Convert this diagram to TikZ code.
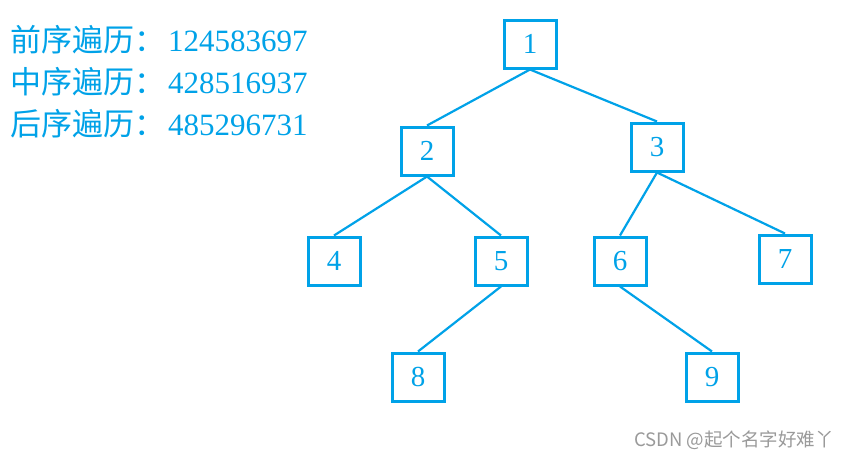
\documentclass[tikz,border=0pt]{standalone}
\usepackage{fontspec}
\setmainfont{Liberation Serif}
\newfontfamily\cjk{Noto Sans CJK SC}
\definecolor{treeblue}{HTML}{00A2E8}
\definecolor{wmgray}{HTML}{9A9A9A}
\begin{document}
\begin{tikzpicture}[x=1pt,y=-1pt,
  tnode/.style={draw=treeblue, line width=3pt, minimum width=52pt, minimum height=48pt, inner sep=0pt, text=treeblue, font=\fontsize{29}{31}\selectfont},
  edge/.style={draw=treeblue, line width=2.2pt},
  trav/.style={anchor=west, text=treeblue, inner sep=0pt, font=\fontsize{31}{33}\selectfont}]
\useasboundingbox (0,0) rectangle (854,459);
\fill[white] (0,0) rectangle (854,459);
\node[tnode] (n1) at (530,44) {1};
\node[tnode] (n2) at (427,151) {2};
\node[tnode] (n3) at (657,147) {3};
\node[tnode] (n4) at (334,261) {4};
\node[tnode] (n5) at (501,261) {5};
\node[tnode] (n6) at (620,261) {6};
\node[tnode] (n7) at (785,259) {7};
\node[tnode] (n8) at (418,377) {8};
\node[tnode] (n9) at (712,377) {9};
\draw[edge] (n1.south) -- (n2.north);
\draw[edge] (n1.south) -- (n3.north);
\draw[edge] (n2.south) -- (n4.north);
\draw[edge] (n2.south) -- (n5.north);
\draw[edge] (n3.south) -- (n6.north);
\draw[edge] (n3.south) -- (n7.north);
\draw[edge] (n5.south) -- (n8.north);
\draw[edge] (n6.south) -- (n9.north);
\node[trav] (t1) at (10,40) {{\cjk 前序遍历：}\kern3pt 124583697};
\node[trav] (t2) at (10,82) {{\cjk 中序遍历：}\kern3pt 428516937};
\node[trav] (t3) at (10,124) {{\cjk 后序遍历：}\kern3pt 485296731};
\node[anchor=east, text=wmgray, inner sep=0pt, font=\cjk\fontsize{18.5}{20}\selectfont] (wm) at (834,440) {CSDN @起个名字好难丫};
\end{tikzpicture}
\end{document}
